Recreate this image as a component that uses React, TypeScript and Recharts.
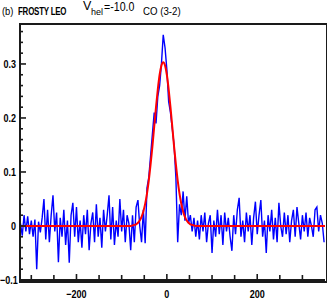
import { LineChart, Line, XAxis, YAxis } from "recharts";

const vStart = -324;
const vStep = 4;
const flux = [
  0.005, -0.018, 0.02, -0.01, 0.018, -0.015, 0.01, -0.02, 0.012, -0.08,
  0.008, -0.012, 0.015, 0.05, -0.025, 0.03, -0.03, 0.02, 0.057, -0.01,
  0.025, -0.067, 0.015, -0.02, 0.03, -0.035, 0.01, -0.068, 0.02, 0.043,
  -0.02, 0.035,
  -0.03, 0.01, -0.04, 0.02, -0.015, 0.03, -0.045, 0.005, 0.025, -0.03,
  0.04, -0.02, 0.015, -0.04, 0.03, -0.01, 0.02, 0.057, -0.025, 0.035,
  -0.035, 0.01, -0.02, 0.05, -0.01, 0.03, -0.03, 0.02, 0.005, -0.045,
  0.02, -0.03, 0.035, 0.048, 0.0, -0.03, 0.03, -0.032, 0.07, 0.09,
  0.13, 0.17, 0.21, 0.19, 0.24, 0.26, 0.3, 0.354, 0.33, 0.29,
  0.23, 0.21, 0.18, 0.15, 0.09, -0.03, 0.04, 0.02, 0.064, 0.01,
  0.055, 0.005, 0.02, -0.01, 0.015,
  -0.02, 0.01, -0.025, 0.02, -0.01, 0.025, -0.03, 0.005, 0.02, -0.05,
  0.01, -0.02, 0.03, -0.015, 0.02, -0.035, 0.025, -0.01, 0.015, -0.02,
  -0.046, 0.02, -0.015, 0.03, 0.052, -0.02, 0.01, -0.03, 0.025, -0.01,
  0.02, -0.035, 0.015, 0.045, -0.015, 0.02, 0.048, -0.02, 0.01, -0.05,
  0.02, -0.01, 0.03, -0.025, 0.015, -0.03, 0.043, 0.0, -0.02, 0.025,
  -0.015, 0.02, -0.03, 0.01, 0.03, -0.02, 0.035, 0.005, -0.025, 0.02,
  -0.01, 0.025, -0.02, 0.015, 0.0, -0.02, 0.03, 0.035, -0.01, 0.02,
  0.005, -0.03,
];

const fitVel = [
  -325, -80, -76, -72, -68, -64, -60, -56, -52, -48, -44, -40, -36, -32, -28,
  -24, -20, -16, -12, -8, -4, 0, 4, 8, 12, 16, 20, 24, 28, 32, 36, 40, 44, 48,
  52, 56, 60, 64, 350,
];
const fitFlux = [
  0, 0, 0.001, 0.002, 0.003, 0.006, 0.01, 0.017, 0.027, 0.041, 0.06, 0.084,
  0.114, 0.147, 0.184, 0.22, 0.253, 0.28, 0.297, 0.303, 0.297, 0.28, 0.253,
  0.22, 0.184, 0.147, 0.114, 0.084, 0.06, 0.041, 0.027, 0.017, 0.01, 0.006,
  0.003, 0.002, 0.001, 0, 0,
];

const xTicks = [-300, -250, -200, -150, -100, -50, 0, 50, 100, 150, 200, 250, 300];
const xLabels = [-200, 0, 200];
const yTicks = [
  -0.08, -0.06, -0.04, -0.02, 0, 0.02, 0.04, 0.06, 0.08, 0.1, 0.12, 0.14,
  0.16, 0.18, 0.2, 0.22, 0.24, 0.26, 0.28, 0.3, 0.32, 0.34, 0.36,
];
const yLabels = [0, 0.1, 0.2, 0.3];

const obsData = flux.map((f, i) => ({ v: vStart + i * vStep, f }));
const fitData = fitVel.map((v, i) => ({ v, f: fitFlux[i] }));

const font = '"Liberation Sans", Arimo, Helvetica, sans-serif';
const ink = "#1a1a1a";
const fmt = (n: number) => (n < 0 ? "\u2212" + String(-n) : String(n));
const has = (list: number[], v: number) => list.some((l) => Math.abs(l - v) < 1e-9);

const L = 20;
const T = 24;
const R = 325;
const B = 280;

const XTick = ({ x, payload, side }: any) => {
  const len = has(xLabels, payload.value) ? 6 : 5;
  const top = side === "top";
  const y0 = top ? T : B;
  const y1 = top ? T + len : B - len;
  return (
    <g>
      <path d={`M${x},${y0}L${x},${y1}`} stroke={ink} strokeWidth={1.6} fill="none" />
      {!top && has(xLabels, payload.value) && (
        <text
          transform={`translate(${x},${B + 18}) scale(0.82,1)`}
          textAnchor="middle"
          fontFamily={font}
          fontWeight="bold"
          fontSize={11}
          fill="#000"
        >
          {fmt(payload.value)}
        </text>
      )}
    </g>
  );
};

const YTick = ({ y, payload, side }: any) => {
  const len = has(yLabels, payload.value) ? 6 : 3;
  const right = side === "right";
  const x0 = right ? R : L;
  const x1 = right ? R - len : L + len;
  return (
    <g>
      <path d={`M${x0},${y}L${x1},${y}`} stroke={ink} strokeWidth={1.6} fill="none" />
      {!right && has(yLabels, payload.value) && (
        <text
          transform={`translate(${L - 4},${y + 4}) scale(0.82,1)`}
          textAnchor="end"
          fontFamily={font}
          fontWeight="bold"
          fontSize={11}
          fill="#000"
        >
          {fmt(payload.value)}
        </text>
      )}
    </g>
  );
};

const axisLine = { stroke: ink, strokeWidth: 2 };

export default function App() {
  return (
    <div style={{ position: "relative", width: 327, height: 300, background: "#fff", fontFamily: font, color: "#000" }}>
      <style>{"body{margin:0}"}</style>
      <div style={{ position: "absolute", left: 2, top: 5, fontSize: 11, whiteSpace: "nowrap", lineHeight: "13px" }}>
        <span style={{ display: "inline-block", transform: "scaleX(0.85)", transformOrigin: "left" }}>(b)</span>
        <b style={{ position: "absolute", left: 16, top: 0, display: "inline-block", transform: "scaleX(0.72)", transformOrigin: "left", letterSpacing: -0.3 }}>
          FROSTY LEO
        </b>
      </div>
      <span style={{ position: "absolute", left: 83, top: -1, fontSize: 12.5, lineHeight: "14px", whiteSpace: "nowrap" }}>V</span>
      <span style={{ position: "absolute", left: 91, top: 7, fontSize: 9, lineHeight: "10px", whiteSpace: "nowrap" }}>hel</span>
      <span style={{ position: "absolute", left: 104, top: 0, fontSize: 12.5, lineHeight: "14px", whiteSpace: "nowrap", transform: "scaleX(0.85)", transformOrigin: "left" }}>
        =-10.0
      </span>
      <span style={{ position: "absolute", left: 143, top: 5, fontSize: 11, lineHeight: "13px", whiteSpace: "nowrap", transform: "scaleX(0.88)", transformOrigin: "left" }}>
        CO (3-2)
      </span>
      <LineChart width={327} height={300} margin={{ top: T, right: 327 - R, bottom: 0, left: 0 }}>
        <XAxis xAxisId="b" type="number" dataKey="v" domain={[-325, 350]} allowDataOverflow ticks={xTicks} interval={0}
          height={300 - B} stroke={ink} tickSize={0} tickMargin={0} tickLine={false} axisLine={axisLine} tick={<XTick side="bottom" />} />
        <XAxis xAxisId="t" orientation="top" type="number" dataKey="v" domain={[-325, 350]} allowDataOverflow ticks={xTicks} interval={0}
          height={0} stroke={ink} tickSize={0} tickMargin={0} tickLine={false} axisLine={axisLine} tick={<XTick side="top" />} />
        <YAxis yAxisId="l" type="number" domain={[-0.1, 0.374]} allowDataOverflow ticks={yTicks} interval={0}
          width={L} stroke={ink} tickSize={0} tickMargin={0} tickLine={false} axisLine={axisLine} tick={<YTick side="left" />} />
        <YAxis yAxisId="r" orientation="right" type="number" domain={[-0.1, 0.374]} allowDataOverflow ticks={yTicks} interval={0}
          width={0} stroke={ink} tickSize={0} tickMargin={0} tickLine={false} axisLine={axisLine} tick={<YTick side="right" />} />
        <Line xAxisId="b" yAxisId="l" data={obsData} dataKey="f" type="linear" stroke="#0000ff" strokeWidth={1.4} dot={false} isAnimationActive={false} />
        <Line xAxisId="b" yAxisId="l" data={fitData} dataKey="f" type="monotone" stroke="#ff0000" strokeWidth={2} dot={false} isAnimationActive={false} />
      </LineChart>
      <div
        style={{
          position: "absolute",
          left: L - 1,
          top: T - 1,
          width: R - L,
          height: B - T,
          border: `2px solid ${ink}`,
          pointerEvents: "none",
        }}
      />
      <span style={{ position: "absolute", left: 0, top: B - 6, fontSize: 11, fontWeight: "bold", lineHeight: "12px", whiteSpace: "nowrap", transform: "scaleX(0.82)", transformOrigin: "left" }}>
        {fmt(-0.1)}
      </span>
    </div>
  );
}
